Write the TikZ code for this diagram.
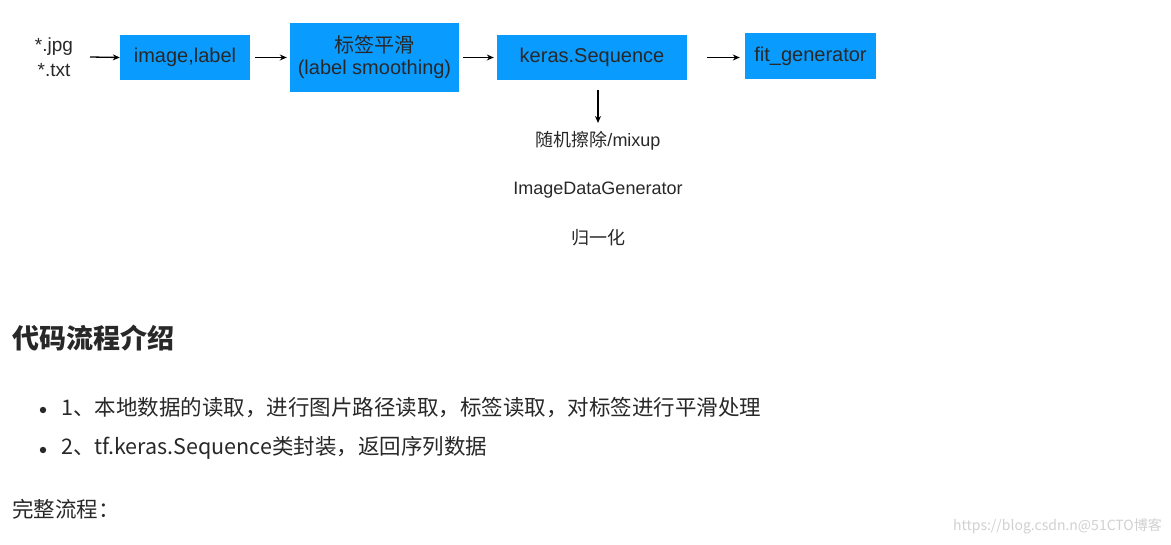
\documentclass[tikz,border=0pt]{standalone}
\usepackage{fontspec}
\setmainfont{Liberation Sans}
\newfontfamily\cjk{Noto Sans CJK SC}
\usetikzlibrary{arrows.meta}
\definecolor{boxblue}{RGB}{10,155,255}
\definecolor{txt}{RGB}{40,40,40}
\tikzset{
  bluebox/.style={fill=boxblue,draw=none,inner sep=0pt,align=center,font=\fontsize{20}{22}\selectfont,text=txt},
  arr/.style={-{Stealth[length=7pt,width=6pt]},line width=1.3pt,black},
  plain/.style={inner sep=0pt,text=txt,font=\fontsize{18}{20}\selectfont},
}
\begin{document}
\begin{tikzpicture}[x=1pt,y=-1pt]
\useasboundingbox[fill=white] (0,0) rectangle (1171,545);
\node[plain,align=center,font=\fontsize{19}{25}\selectfont] (src) at (54,57) {*.jpg\\*.txt};
\node[bluebox,minimum width=130pt,minimum height=45pt] (a) at (185,57.5) {image,label};
\node[bluebox,minimum width=169pt,minimum height=69pt] (b) at (374.5,57.5) {{\cjk 标签平滑}\\(label smoothing)};
\node[bluebox,minimum width=190pt,minimum height=45pt] (c) at (592,57.5) {keras.Sequence};
\node[bluebox,minimum width=131pt,minimum height=46pt] (d) at (810.5,56) {fit\_generator};
\coordinate (s1) at (90,57);
\draw[arr] (s1) -- (a.west);
\draw[arr] ([xshift=5pt]a.east) -- ([xshift=-3pt]b.west);
\draw[arr] ([xshift=4pt]b.east) -- ([xshift=-3pt]c.west);
\draw[arr] ([xshift=20pt]c.east) -- ([xshift=-5pt]d.west|-c.east);
\coordinate (dn1) at (598,90);
\coordinate (dn2) at (598,123);
\draw[arr] (dn1) -- (dn2);
\node[plain] (t1) at (598,141) {{\cjk 随机擦除}/mixup};
\node[plain] (t2) at (598,190) {ImageDataGenerator};
\node[plain] (t3) at (598,238) {\cjk 归一化};
\node[anchor=west,inner sep=0pt,text=txt,font=\cjk\bfseries\fontsize{27}{30}\selectfont] (h) at (12,338) {代码流程介绍};
\fill[txt] (43,410) circle (3.2pt);
\fill[txt] (43,450) circle (3.2pt);
\node[anchor=west,inner sep=0pt,text=txt,font=\cjk\fontsize{21.5}{24}\selectfont] (b1) at (61,408) {1、本地数据的读取，进行图片路径读取，标签读取，对标签进行平滑处理};
\node[anchor=west,inner sep=0pt,text=txt,font=\cjk\fontsize{21.5}{24}\selectfont] (b2) at (61,448) {2、tf.keras.Sequence类封装，返回序列数据};
\node[anchor=west,inner sep=0pt,text=txt,font=\cjk\fontsize{21.5}{24}\selectfont] (f) at (12,509) {完整流程：};
\node[anchor=east,inner sep=0pt,text=black!18,font=\cjk\fontsize{14}{16}\selectfont] (w) at (1162,526) {https://blog.csdn.n@51CTO博客};
\end{tikzpicture}
\end{document}
